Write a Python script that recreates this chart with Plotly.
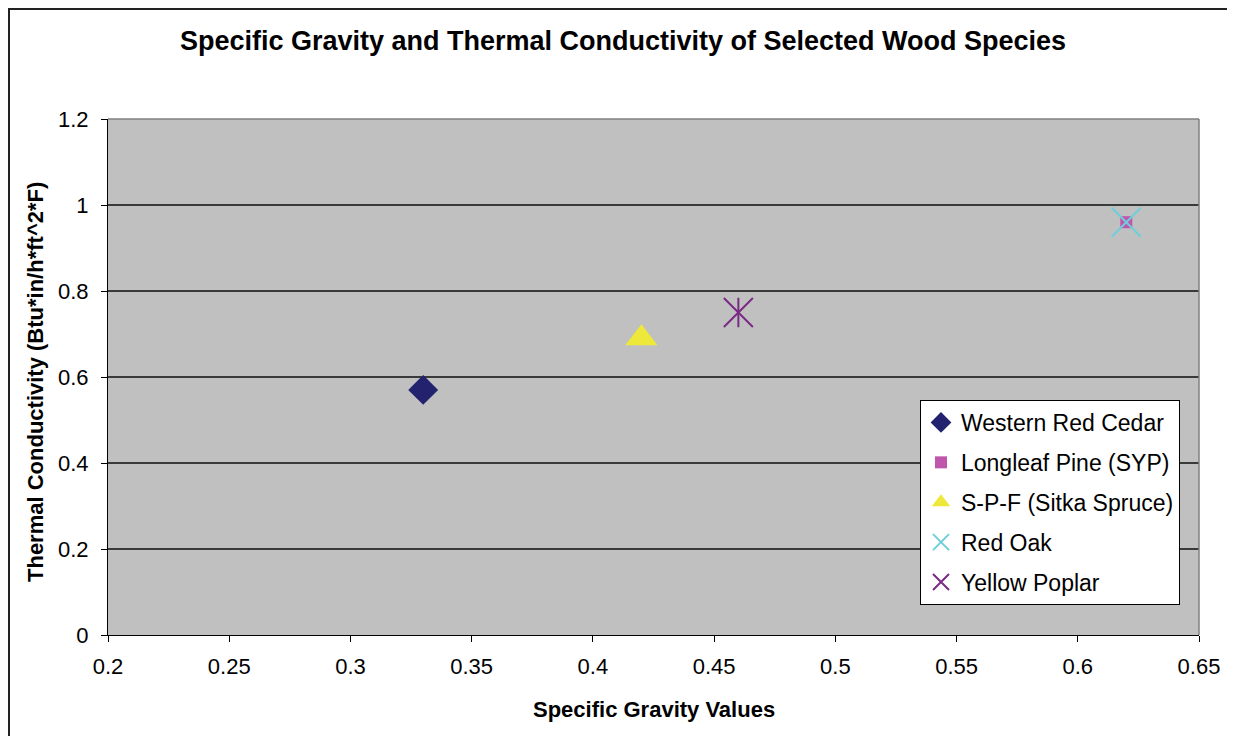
import plotly.graph_objects as go

# Data
species = ["Western Red Cedar", "Longleaf Pine (SYP)", "S-P-F (Sitka Spruce)", "Red Oak", "Yellow Poplar"]
specific_gravity = [0.33, 0.62, 0.42, 0.62, 0.46]
thermal_conductivity = [0.57, 0.96, 0.69, 0.96, 0.75]

x_ticks = [0.2, 0.25, 0.3, 0.35, 0.4, 0.45, 0.5, 0.55, 0.6, 0.65]
y_ticks = [0, 0.2, 0.4, 0.6, 0.8, 1, 1.2]

styles = [
    dict(symbol="diamond", size=23, color="#22226E", line=dict(width=0)),
    dict(symbol="square", size=12, color="#C055AC", line=dict(width=0)),
    dict(symbol="triangle-up", size=28, color="#EEE83A", line=dict(width=0)),
    dict(symbol="x-thin", size=29, color="#6CCFDB", line=dict(width=2, color="#6CCFDB")),
    dict(symbol="x-thin", size=29, color="#7A2A84", line=dict(width=2, color="#7A2A84")),
]
fig = go.Figure()
for i in range(len(species)):
    fig.add_trace(go.Scatter(
        x=[specific_gravity[i]], y=[thermal_conductivity[i]], mode="markers",
        name=species[i], marker=styles[i], legendgroup=species[i],
    ))
# vertical stroke of the Yellow Poplar star marker
fig.add_trace(go.Scatter(
    x=[specific_gravity[4]], y=[thermal_conductivity[4]], mode="markers",
    showlegend=False, legendgroup=species[4], hoverinfo="skip",
    marker=dict(symbol="line-ns", size=21, color="#7A2A84", line=dict(width=2, color="#7A2A84")),
))

font = "Liberation Sans, Arial, sans-serif"
W, H = 1227, 728
fig.update_layout(
    width=W, height=H,
    margin=dict(l=100, r=36, t=111, b=101),
    paper_bgcolor="white", plot_bgcolor="#C0C0C0",
    font=dict(family=font, size=22, color="black"),
    title=dict(text="<b>Specific Gravity and Thermal Conductivity of Selected Wood Species</b>",
               x=615 / W, xref="container", xanchor="center",
               y=1 - 33 / H, yref="container", yanchor="middle",
               font=dict(size=27, family=font, color="black")),
    showlegend=True,
    legend=dict(x=(920 - 108) / 1091, y=(635 - 400) / 516, xanchor="left", yanchor="top",
                bgcolor="white", bordercolor="black", borderwidth=1,
                font=dict(size=23, family=font, color="black"),
                tracegroupgap=7, itemwidth=30),
    xaxis=dict(range=[0.2, 0.65], tickvals=x_ticks, ticktext=[f"{v:g}" for v in x_ticks],
               showgrid=False, zeroline=False, showline=True, linecolor="black", linewidth=1,
               ticks="outside", ticklen=6, tickcolor="black", ticklabelstandoff=6,
               tickfont=dict(size=22)),
    yaxis=dict(range=[0, 1.2], tickvals=y_ticks, ticktext=[f"{v:g}" for v in y_ticks],
               showgrid=True, gridcolor="#3A3A3A", gridwidth=1.5, zeroline=False,
               showline=True, linecolor="black", linewidth=1,
               ticks="outside", ticklen=6, tickcolor="black", ticklabelstandoff=8,
               tickfont=dict(size=22)),
    annotations=[
        dict(text="<b>Specific Gravity Values</b>", xref="paper", yref="paper",
             x=0.5, y=-(709 - 635) / 516, xanchor="center", yanchor="middle",
             showarrow=False, font=dict(size=22, family=font)),
        dict(text="<b>Thermal Conductivity (Btu*in/h*ft^2*F)</b>", xref="paper", yref="paper",
             x=-(108 - 35) / 1091, y=(635 - 382) / 516, xanchor="center", yanchor="middle",
             textangle=-90, showarrow=False, font=dict(size=22, family=font)),
    ],
    shapes=[
        dict(type="line", xref="paper", yref="paper", x0=0, x1=1, y0=1, y1=1,
             line=dict(color="#808080", width=1.5)),
        dict(type="line", xref="paper", yref="paper", x0=1, x1=1, y0=0, y1=1,
             line=dict(color="#808080", width=1.5)),
        # outer chart border
        dict(type="rect", xref="paper", yref="paper",
             x0=(9 - 108) / 1091, x1=(1233 - 108) / 1091,
             y0=-(745 - 635) / 516, y1=(635 - 9) / 516,
             line=dict(color="#222222", width=2), layer="below"),
    ],
)

fig.write_html("out.html")
